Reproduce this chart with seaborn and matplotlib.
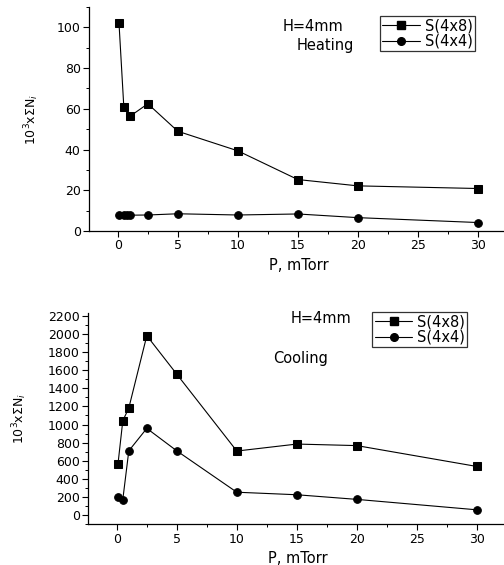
import matplotlib
matplotlib.use("Agg")
import matplotlib.pyplot as plt
from matplotlib.lines import Line2D
from matplotlib.ticker import MultipleLocator
import seaborn as sns
import pandas as pd

# ---- data ----
p_heat_48 = [0.1, 0.5, 1, 2.5, 5, 10, 15, 20, 30]
heat_48 = [102, 61, 56.3, 62.5, 49, 39.4, 25.3, 22.2, 20.9]
p_heat_44 = [0.1, 0.5, 0.75, 1, 2.5, 5, 10, 15, 20, 30]
heat_44 = [7.8, 8.0, 8.0, 7.8, 7.9, 8.5, 7.9, 8.4, 6.6, 4.2]

p_cool_48 = [0.1, 0.5, 1, 2.5, 5, 10, 15, 20, 30]
cool_48 = [567, 1042, 1182, 1980, 1555, 708, 785, 768, 538]
p_cool_44 = [0.1, 0.5, 1, 2.5, 5, 10, 15, 20, 30]
cool_44 = [197, 173, 710, 958, 710, 254, 226, 175, 60]

series_names = ["S(4x8)", "S(4x4)"]
x_ticks = [0, 5, 10, 15, 20, 25, 30]

sns.set_theme(style="ticks")
plt.rcParams["font.family"] = ["DejaVu Sans"]
plt.rcParams["mathtext.fontset"] = "dejavusans"
plt.rcParams["text.color"] = "black"
plt.rcParams["axes.labelcolor"] = "black"
plt.rcParams["xtick.color"] = "black"
plt.rcParams["ytick.color"] = "black"

fig = plt.figure(figsize=(5.04, 5.65), dpi=100)
ax1 = fig.add_axes([0.1766, 0.591, 0.831, 0.3966])
ax2 = fig.add_axes([0.1746, 0.072, 0.831, 0.374])

markers = {"S(4x8)": "s", "S(4x4)": "o"}


def make_df(p48, v48, p44, v44):
    d1 = pd.DataFrame({"P": p48, "v": v48, "series": series_names[0]})
    d2 = pd.DataFrame({"P": p44, "v": v44, "series": series_names[1]})
    return pd.concat([d1, d2], ignore_index=True)


def draw(ax, df, ylim, ymin, yticks, ticksize, txt1, txt1pos, txt2, txt2pos, legpos):
    sns.lineplot(data=df, x="P", y="v", style="series", markers=markers,
                 dashes=False, color="black", markersize=5.5, linewidth=0.8,
                 markeredgecolor="black", legend=False, sort=False, ax=ax,
                 estimator=None)
    ax.set_xlim(-2.4, 32.5)
    ax.set_ylim(*ylim)
    ax.set_xticks(x_ticks)
    ax.xaxis.set_minor_locator(MultipleLocator(2.5))
    ax.set_yticks(yticks)
    ax.yaxis.set_minor_locator(MultipleLocator(ymin))
    for s in ["top", "right"]:
        ax.spines[s].set_visible(False)
    for s in ["left", "bottom"]:
        ax.spines[s].set_linewidth(0.9)
        ax.spines[s].set_color("black")
    ax.tick_params(axis="both", which="major", direction="out", length=4,
                   width=0.8, labelsize=ticksize, colors="black", pad=2)
    ax.tick_params(axis="both", which="minor", direction="out", length=2.5,
                   width=0.7, colors="black")
    ax.set_xlabel("P, mTorr", fontsize=10.5, labelpad=4, color="black")
    ax.set_ylabel(r"$10^3$x$\Sigma$N$_i$", fontsize=9, color="black")
    ax.text(*txt1pos, txt1, transform=ax.transAxes, fontsize=10.5, color="black")
    ax.text(*txt2pos, txt2, transform=ax.transAxes, fontsize=10.5, color="black")
    handles = [Line2D([], [], color="black", lw=0.8, marker=markers[n],
                      markersize=5.5, markerfacecolor="black",
                      markeredgecolor="black") for n in series_names]
    leg = ax.legend(handles, series_names, loc="upper left",
                    bbox_to_anchor=legpos, frameon=True, fancybox=False,
                    edgecolor="black", fontsize=10.5, handlelength=2.6,
                    handletextpad=0.3, borderpad=0.15, labelspacing=0.05,
                    borderaxespad=0, labelcolor="black")
    leg.get_frame().set_linewidth(0.9)


df_heat = make_df(p_heat_48, heat_48, p_heat_44, heat_44)
df_cool = make_df(p_cool_48, cool_48, p_cool_44, cool_44)

draw(ax1, df_heat, (0, 110), 10, [0, 20, 40, 60, 80, 100], 9,
     "H=4mm", (0.463, 0.893), "Heating", (0.496, 0.808), (0.695, 0.96))
draw(ax2, df_cool, (-100, 2230), 100, list(range(0, 2201, 200)), 9,
     "H=4mm", (0.483, 0.953), "Cooling", (0.443, 0.763), (0.679, 1.005))

ax1.yaxis.set_label_coords(-0.115, 0.5)
ax2.yaxis.set_label_coords(-0.14, 0.5)

fig.savefig("out.png", dpi=100)
